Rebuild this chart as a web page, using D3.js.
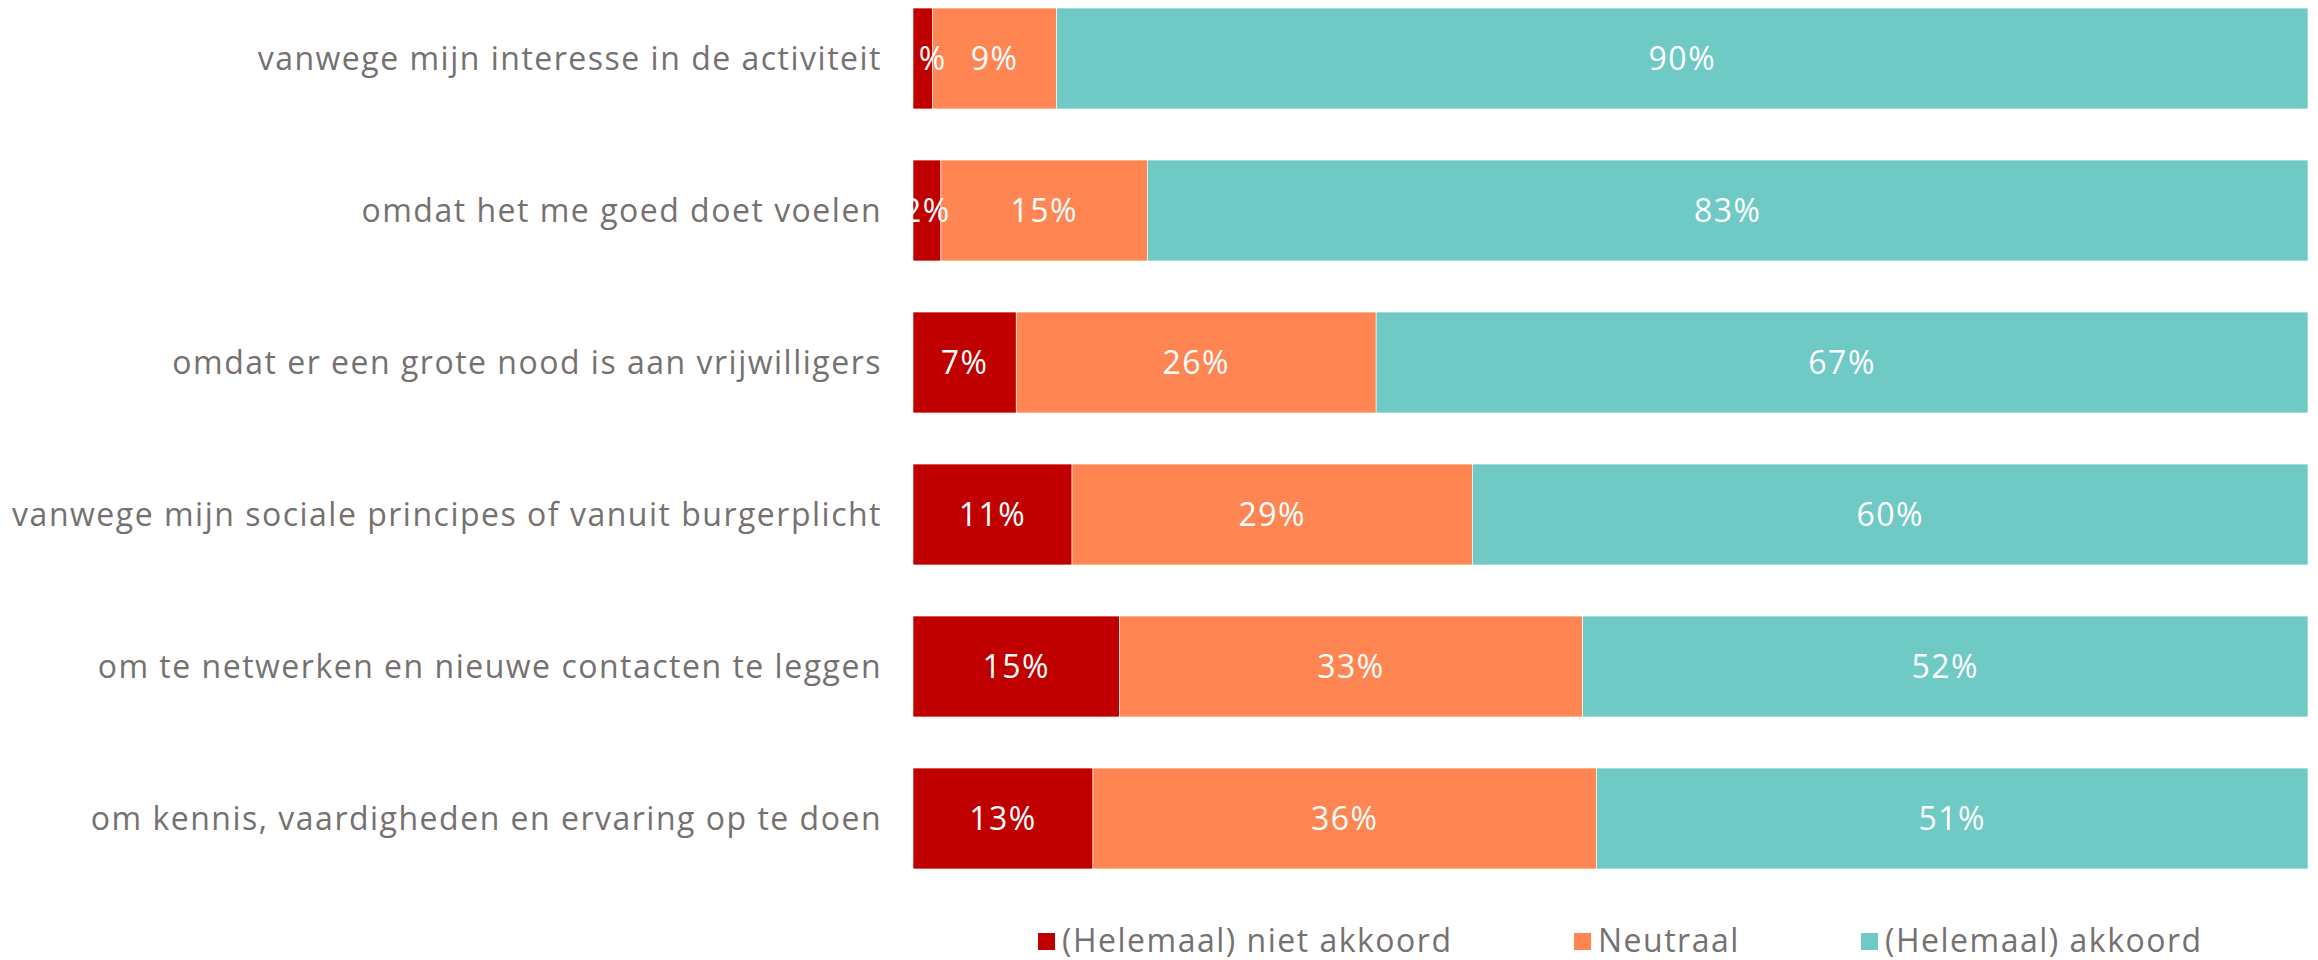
<!DOCTYPE html>
<html>
<head>
<meta charset="utf-8">
<script src="https://cdn.jsdelivr.net/npm/d3@7"></script>
<style>
  body { margin: 0; background: #fff; }
  svg text { font-family: "Open Sans", sans-serif; }
</style>
</head>
<body>
<div id="chart"></div>
<script>
// categories top to bottom
var categories = [
  "vanwege mijn interesse in de activiteit",
  "omdat het me goed doet voelen",
  "omdat er een grote nood is aan vrijwilligers",
  "vanwege mijn sociale principes of vanuit burgerplicht",
  "om te netwerken en nieuwe contacten te leggen",
  "om kennis, vaardigheden en ervaring op te doen"
];
var seriesNames = ["(Helemaal) niet akkoord", "Neutraal", "(Helemaal) akkoord"];
var nietAkkoord = [1.4, 2.0, 7.4, 11.4, 14.8, 12.9];
var neutraal    = [8.9, 14.8, 25.8, 28.7, 33.2, 36.1];
var akkoord     = [89.7, 83.2, 66.8, 59.9, 52.0, 51.0];
var colors = ["#c00000", "#ff8552", "#6fc9c5"];

var W = 2318, H = 960;
var svg = d3.select("#chart").append("svg")
  .attr("width", W)
  .attr("height", H);

var rows = categories.map(function (c, i) {
  return { cat: c, vals: [nietAkkoord[i], neutraal[i], akkoord[i]] };
});

var x = d3.scaleLinear().domain([0, 100]).range([913, 2308]);
var y = d3.scaleBand()
  .domain(categories)
  .range([-17.5, 894.5])
  .paddingInner(0.336)
  .paddingOuter(0.168);

rows.forEach(function (r) {
  var start = 0;
  var segs = r.vals.map(function (v, k) {
    var s = { x0: start, x1: start + v, v: v, k: k };
    start += v;
    return s;
  });
  var g = svg.append("g");
  g.selectAll("rect")
    .data(segs)
    .enter()
    .append("rect")
    .attr("x", d => x(d.x0))
    .attr("y", y(r.cat))
    .attr("width", d => x(d.x1) - x(d.x0))
    .attr("height", y.bandwidth())
    .attr("fill", d => colors[d.k])
    .attr("stroke", "#fff")
    .attr("stroke-width", 0.6);
  g.selectAll("text")
    .data(segs)
    .enter()
    .append("text")
    .attr("x", d => (x(d.x0) + x(d.x1)) / 2)
    .attr("y", y(r.cat) + y.bandwidth() / 2)
    .attr("dy", "0.36em")
    .attr("text-anchor", "middle")
    .attr("fill", "#fff")
    .style("font-size", "32px")
    .style("letter-spacing", "1.5px")
    .text(d => Math.round(d.v) + "%");
});

// category labels
svg.append("g")
  .selectAll("text")
  .data(categories)
  .enter()
  .append("text")
  .attr("x", 882)
  .attr("y", d => y(d) + y.bandwidth() / 2)
  .attr("dy", "0.36em")
  .attr("text-anchor", "end")
  .attr("fill", "#767171")
  .style("font-size", "32px")
  .style("letter-spacing", "1.5px")
  .text(d => d);

// legend
var legendX = [1038, 1574, 1861];
var legend = svg.append("g").attr("class", "legend");
seriesNames.forEach(function (name, i) {
  legend.append("rect")
    .attr("x", legendX[i])
    .attr("y", 933)
    .attr("width", 17)
    .attr("height", 17)
    .attr("fill", colors[i]);
  legend.append("text")
    .attr("x", legendX[i] + 24)
    .attr("y", 940)
    .attr("dy", "0.36em")
    .attr("fill", "#767171")
    .style("font-size", "32px")
    .style("letter-spacing", "1.5px")
    .text(name);
});
</script>
</body>
</html>
